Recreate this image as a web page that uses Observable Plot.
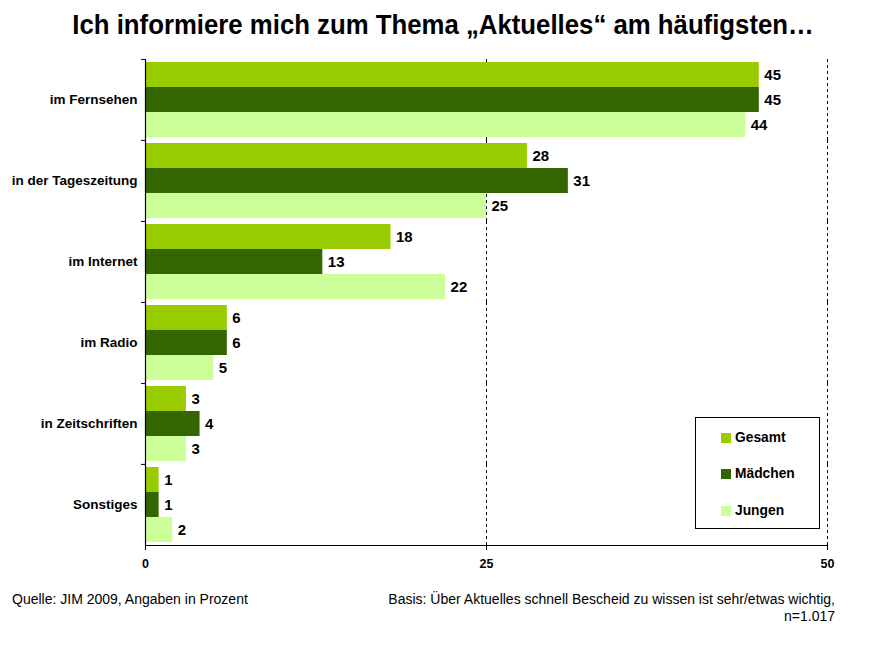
<!DOCTYPE html>
<html><head><meta charset="utf-8">
<script src="https://cdn.jsdelivr.net/npm/d3@7"></script>
<script src="https://cdn.jsdelivr.net/npm/@observablehq/plot@0.6"></script>
<style>
body{margin:0;background:#fff;}
#wrap{position:relative;width:886px;height:660px;font-family:"Liberation Sans",Arial,sans-serif;color:#000;}
#title{position:absolute;left:0;width:886px;top:8px;text-align:center;font-family:"Liberation Sans Narrow","Arial Narrow","Liberation Sans",sans-serif;font-weight:bold;font-size:28px;line-height:34px;transform:scaleX(0.92);transform-origin:444px 0;}
#chart{position:absolute;left:0;top:0;}
#legend{position:absolute;left:695px;top:417px;width:123px;height:110px;border:1.5px solid #000;background:#fff;}
.item{position:absolute;left:25px;height:16px;font-weight:bold;font-size:13.8px;line-height:16px;}
.sw{display:inline-block;width:10px;height:10px;margin-right:4px;vertical-align:-1px;}
#src{position:absolute;left:12px;top:591px;font-size:14px;}
#basis{position:absolute;right:51px;top:591px;font-size:14px;text-align:right;line-height:17px;}
</style></head>
<body>
<div id="wrap">
  <div id="chart"></div>
  <div id="title">Ich informiere mich zum Thema „Aktuelles“ am häufigsten…</div>
  <div id="legend"></div>
  <div id="src">Quelle: JIM 2009, Angaben in Prozent</div>
  <div id="basis">Basis: Über Aktuelles schnell Bescheid zu wissen ist sehr/etwas wichtig,<br>n=1.017</div>
</div>
<script>
const categories = ["im Fernsehen","in der Tageszeitung","im Internet","im Radio","in Zeitschriften","Sonstiges"];
const series = ["Gesamt","Mädchen","Jungen"];
const gesamt = [45,28,18,6,3,1];
const maedchen = [45,31,13,6,4,1];
const jungen = [44,25,22,5,3,2];
const colors = ["#99CC00","#336600","#CCFF99"];
const xTicks = [0,25,50];

const valuesBySeries = [gesamt, maedchen, jungen];
const rows = [];
categories.forEach((c, i) => series.forEach((s, j) => rows.push({cat: c, series: s, value: valuesBySeries[j][i]})));

const W = 886, H = 660, mt = 58, mb = 115;
const fyStep = (H - mt - mb) / categories.length;

const chart = Plot.plot({
  width: W, height: H,
  marginLeft: 145, marginRight: 59, marginTop: mt, marginBottom: mb,
  style: {fontFamily: "'Liberation Sans', Arial, sans-serif", background: "transparent", color: "#000"},
  x: {domain: [0, 50], axis: null},
  y: {domain: series, paddingInner: 0, paddingOuter: 0.12, axis: null},
  fy: {domain: categories, padding: 0, axis: null},
  color: {domain: series, range: colors},
  marks: [
    Plot.ruleX(xTicks.filter(d => d > 0), {stroke: "#000", strokeDasharray: "3,3", strokeWidth: 1}),
    Plot.barX(rows, {fy: "cat", y: "series", x: "value", fill: "series"}),
    Plot.text(rows, {fy: "cat", y: "series", x: "value", text: "value", dx: 5, textAnchor: "start", fontWeight: "bold", fontSize: 15, fill: "#000"}),
    Plot.ruleX([0], {stroke: "#000", strokeWidth: 1.2}),
    Plot.frame({anchor: "bottom", facetAnchor: "bottom", stroke: "#000", strokeWidth: 1.2}),
    Plot.axisFy({anchor: "left", tickSize: 0, tickPadding: 8, fontWeight: "bold", fontSize: 13.5, label: null}),
    Plot.axisFy({anchor: "left", tickSize: 4, tickFormat: () => "", dy: -fyStep / 2, label: null}),
    Plot.axisX({anchor: "bottom", ticks: xTicks, tickSize: 5, tickPadding: 9, tickFormat: d => String(d), fontWeight: "bold", fontSize: 12.5, fontFamily: "'Liberation Sans Narrow','Arial Narrow','Liberation Sans',sans-serif", label: null})
  ]
});
document.getElementById("chart").appendChild(chart);

const legend = document.getElementById("legend");
const tops = [12, 48, 85];
series.forEach((s, i) => {
  const d = document.createElement("div");
  d.className = "item";
  d.style.top = tops[i] + "px";
  d.innerHTML = `<span class="sw" style="background:${colors[i]}"></span>${s}`;
  legend.appendChild(d);
});
</script>
</body></html>
